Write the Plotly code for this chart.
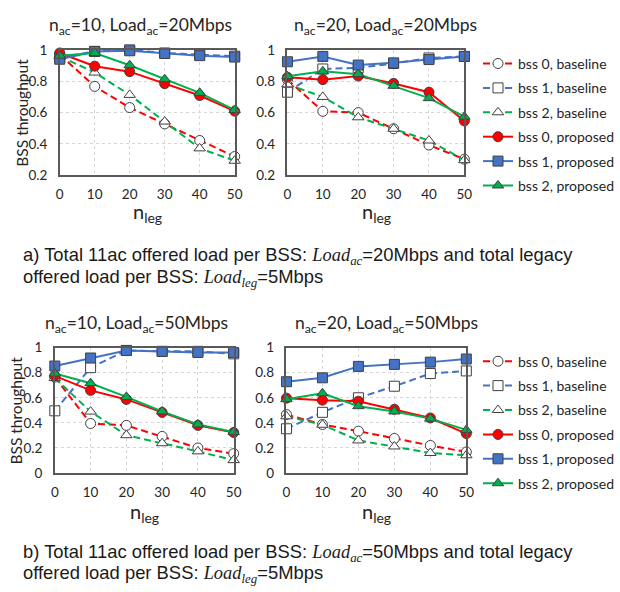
import plotly.graph_objects as go

W, H = 620, 592

n_leg = [0, 10, 20, 30, 40, 50]

# a) n_ac=10, Load_ac=20Mbps
a10_bss0_base = [0.97, 0.767, 0.632, 0.528, 0.422, 0.32]
a10_bss1_base = [0.95, 0.99, 1.0, 0.98, 0.97, 0.96]
a10_bss2_base = [0.96, 0.855, 0.713, 0.543, 0.372, 0.293]
a10_bss0_prop = [0.98, 0.896, 0.861, 0.784, 0.709, 0.609]
a10_bss1_prop = [0.94, 0.99, 0.994, 0.977, 0.963, 0.954]
a10_bss2_prop = [0.963, 0.98, 0.902, 0.813, 0.726, 0.617]

# a) n_ac=20, Load_ac=20Mbps
a20_bss0_base = [0.81, 0.608, 0.60, 0.497, 0.393, 0.303]
a20_bss1_base = [0.73, 0.878, 0.885, 0.913, 0.948, 0.958]
a20_bss2_base = [0.78, 0.70, 0.57, 0.497, 0.422, 0.297]
a20_bss0_prop = [0.825, 0.81, 0.833, 0.786, 0.73, 0.547]
a20_bss1_prop = [0.924, 0.958, 0.903, 0.917, 0.938, 0.958]
a20_bss2_prop = [0.832, 0.863, 0.845, 0.771, 0.692, 0.574]

# b) n_ac=10, Load_ac=50Mbps
b10_bss0_base = [0.765, 0.395, 0.38, 0.292, 0.20, 0.155]
b10_bss1_base = [0.496, 0.84, 0.977, 0.97, 0.97, 0.95]
b10_bss2_base = [0.757, 0.49, 0.302, 0.238, 0.173, 0.103]
b10_bss0_prop = [0.775, 0.659, 0.587, 0.483, 0.38, 0.323]
b10_bss1_prop = [0.853, 0.917, 0.977, 0.969, 0.961, 0.961]
b10_bss2_prop = [0.793, 0.716, 0.607, 0.491, 0.388, 0.328]

# b) n_ac=20, Load_ac=50Mbps
b20_bss0_base = [0.466, 0.387, 0.334, 0.276, 0.22, 0.168]
b20_bss1_base = [0.353, 0.484, 0.60, 0.692, 0.793, 0.814]
b20_bss2_base = [0.452, 0.385, 0.26, 0.212, 0.16, 0.142]
b20_bss0_prop = [0.597, 0.581, 0.573, 0.509, 0.439, 0.315]
b20_bss1_prop = [0.728, 0.759, 0.85, 0.866, 0.884, 0.909]
b20_bss2_prop = [0.589, 0.636, 0.533, 0.491, 0.434, 0.344]

series_names = ["bss 0, baseline", "bss 1, baseline", "bss 2, baseline",
                "bss 0, proposed", "bss 1, proposed", "bss 2, proposed"]

panel_titles = ["n<sub>ac</sub>=10, Load<sub>ac</sub>=20Mbps",
                "n<sub>ac</sub>=20, Load<sub>ac</sub>=20Mbps",
                "n<sub>ac</sub>=10, Load<sub>ac</sub>=50Mbps",
                "n<sub>ac</sub>=20, Load<sub>ac</sub>=50Mbps"]

top_yticks = [0.2, 0.4, 0.6, 0.8, 1.0]
top_yticklabels = ["0.2", "0.4", "0.6", "0.8", "1"]
bot_yticks = [0, 0.2, 0.4, 0.6, 0.8, 1.0]
bot_yticklabels = ["0", "0.2", "0.4", "0.6", "0.8", "1"]

SERIF = "<span style=\"font-family:'Liberation Serif'\"><i>Load<sub>%s</sub></i></span>"
caption_lines = [
    "a) Total 11ac offered load per BSS: " + (SERIF % "ac") + "=20Mbps and total legacy",
    "offered load per BSS: " + (SERIF % "leg") + "=5Mbps",
    "b) Total 11ac offered load per BSS: " + (SERIF % "ac") + "=50Mbps and total legacy",
    "offered load per BSS: " + (SERIF % "leg") + "=5Mbps",
]

RED = "#FF0000"
BLUE = "#4472C4"
GREEN = "#00B050"
EDGE = "#404040"
FONT = "Lato"

styles = [
    dict(color=RED, dash="7px,4px", symbol="circle", fill="white"),
    dict(color=BLUE, dash="7px,4px", symbol="square", fill="white"),
    dict(color=GREEN, dash="7px,4px", symbol="triangle-up", fill="white"),
    dict(color=RED, dash="solid", symbol="circle", fill=RED),
    dict(color=BLUE, dash="solid", symbol="square", fill=BLUE),
    dict(color=GREEN, dash="solid", symbol="triangle-up", fill=GREEN),
]

panels = [
    ([a10_bss0_base, a10_bss1_base, a10_bss2_base, a10_bss0_prop, a10_bss1_prop, a10_bss2_prop], "x", "y", None),
    ([a20_bss0_base, a20_bss1_base, a20_bss2_base, a20_bss0_prop, a20_bss1_prop, a20_bss2_prop], "x2", "y2", "legend"),
    ([b10_bss0_base, b10_bss1_base, b10_bss2_base, b10_bss0_prop, b10_bss1_prop, b10_bss2_prop], "x3", "y3", None),
    ([b20_bss0_base, b20_bss1_base, b20_bss2_base, b20_bss0_prop, b20_bss1_prop, b20_bss2_prop], "x4", "y4", "legend2"),
]

fig = go.Figure()
for pi, (data, xa, ya, leg) in enumerate(panels):
    for si, vals in enumerate(data):
        st = styles[si]
        fig.add_trace(go.Scatter(
            x=n_leg, y=vals, xaxis=xa, yaxis=ya,
            mode="lines+markers", name=series_names[si],
            line=dict(color=st["color"], width=2, dash=st["dash"]),
            marker=dict(symbol=st["symbol"], size=10, color=st["fill"],
                        line=dict(color=EDGE, width=1)),
            cliponaxis=False,
            showlegend=leg is not None,
            legend=leg if leg else "legend",
            legendgroup=f"{pi}_{si}",
        ))

def px_x(p):
    return p / W

def px_y(p):
    return 1 - p / H

domains = [
    ((57, 236), (43, 172)),
    ((290, 471), (43, 172)),
    ((52, 235), (349, 478)),
    ((289, 473), (349, 478)),
]

axis_common = dict(showline=True, linecolor="#595959", linewidth=1.5, mirror=True,
                   showgrid=True, gridcolor="#d6d6d6", gridwidth=1, griddash="dot",
                   zeroline=False, ticks="",
                   tickfont=dict(family=FONT, size=13.5, color="#262626"))

layout = dict(
    width=W, height=H, margin=dict(l=0, r=0, t=0, b=0),
    paper_bgcolor="white", plot_bgcolor="white",
    font=dict(family=FONT, color="#262626"),
)

for i, ((x0, x1), (y0, y1)) in enumerate(domains):
    suffix = "" if i == 0 else str(i + 1)
    top = i < 2
    layout["xaxis" + suffix] = dict(
        axis_common, domain=[px_x(x0), px_x(x1)], range=[0, 50],
        tickvals=n_leg, ticktext=[str(v) for v in n_leg],
        anchor="y" + suffix, ticklabelstandoff=6,
    )
    layout["yaxis" + suffix] = dict(
        axis_common, domain=[px_y(y1), px_y(y0)],
        range=[0.2, 1.0] if top else [0, 1.0],
        tickvals=top_yticks if top else bot_yticks,
        ticktext=top_yticklabels if top else bot_yticklabels,
        anchor="x" + suffix, ticklabelstandoff=8,
    )

legend_common = dict(font=dict(family=FONT, size=14, color="#262626"),
                     bgcolor="rgba(0,0,0,0)", borderwidth=0,
                     tracegroupgap=3.2, itemwidth=30,
                     xanchor="left", yanchor="top", traceorder="grouped")
layout["legend"] = dict(legend_common, x=px_x(485), y=px_y(41))
layout["legend2"] = dict(legend_common, x=px_x(485), y=px_y(347))

annotations = []
title_pos = [(140, 18), (390, 18), (136, 325), (391, 325)]
for t, (cx, cy) in zip(panel_titles, title_pos):
    annotations.append(dict(text=t, x=px_x(cx), y=px_y(cy), xref="paper", yref="paper",
                            showarrow=False, xanchor="center", yanchor="middle",
                            font=dict(family=FONT, size=17.5, color="#262626")))
xt_pos = [(147, 210), (381, 210), (144, 519), (381, 519)]
for (cx, cy) in xt_pos:
    annotations.append(dict(text="n<sub>leg</sub>", x=px_x(cx), y=px_y(cy), xref="paper", yref="paper",
                            showarrow=False, xanchor="center", yanchor="middle",
                            font=dict(family=FONT, size=20, color="#262626")))
for (cx, cy) in [(18, 108), (12, 414)]:
    annotations.append(dict(text="BSS throughput", x=px_x(cx), y=px_y(cy), xref="paper", yref="paper",
                            showarrow=False, xanchor="center", yanchor="middle", textangle=-90,
                            font=dict(family=FONT, size=15.5, color="#262626")))
for line, cy in zip(caption_lines, [255, 277, 560, 582]):
    annotations.append(dict(text=line, x=px_x(17), y=px_y(cy), xref="paper", yref="paper",
                            showarrow=False, xanchor="left", yanchor="middle", align="left",
                            font=dict(family="Liberation Sans", size=18.4, color="#1a1a1a")))
layout["annotations"] = annotations

fig.update_layout(**layout)
fig.write_html("out.html")
